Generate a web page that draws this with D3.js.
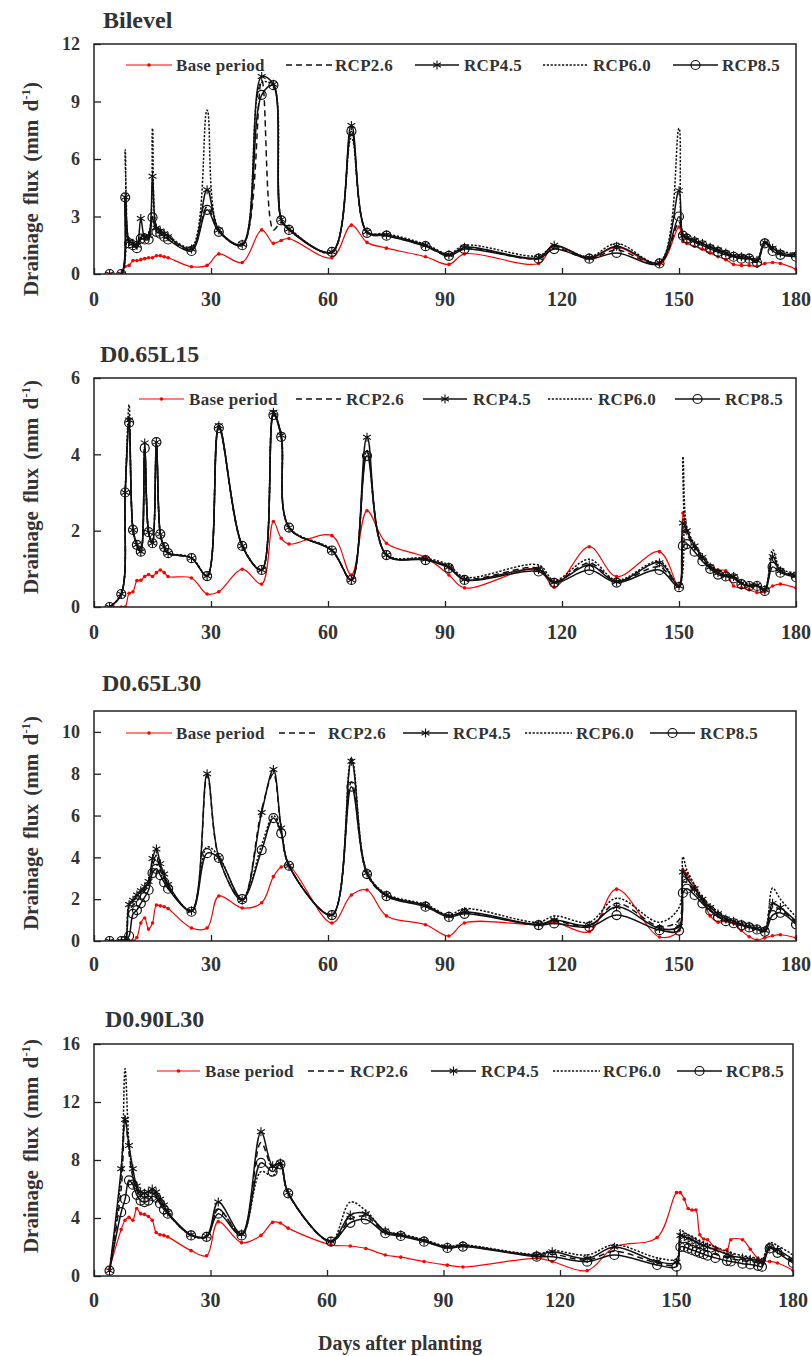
<!DOCTYPE html>
<html><head><meta charset="utf-8">
<script src="https://cdn.jsdelivr.net/npm/d3@7"></script>
<style>
body{margin:0;background:#fff}
svg text{font-family:"Liberation Serif","Times New Roman",serif;font-weight:bold;fill:#333}
</style></head><body>
<svg id="c" width="811" height="1356"></svg>
<script>
// ---- shared axis values ----
const xTickValues = [0, 30, 60, 90, 120, 150, 180];
const seriesNames = ["Base period", "RCP2.6", "RCP4.5", "RCP6.0", "RCP8.5"];

// ---- sampling days (days after planting) ----
const daysStd = [4,7,8,9,10,11,12,13,14,15,16,17,18,19,25,29,32,38,43,46,48,50,61,66,70,75,85,91,95,114,118,127,134,145,150,151,152,154,156,158,160,162,164,166,168,170,172,174,176,180];
const daysD90 = [4,7,8,9,10,11,12,13,14,15,16,17,18,19,25,29,32,38,43,46,48,50,61,66,70,75,79,85,91,95,114,118,127,134,145,150,151,152,153,154,155,156,157,158,160,163,164,167,169,171,172,174,176,180];

// ---- Bilevel drainage flux (mm/d) ----
const baseBilevel  = [0,0,0.4,0.45,0.7,0.7,0.75,0.8,0.85,0.85,0.95,0.95,0.9,0.85,0.38,0.45,1.05,0.6,2.3,1.6,1.75,1.85,0.85,2.55,1.65,1.35,0.9,0.5,1.05,0.55,1.45,0.8,1.4,0.5,2.45,1.7,1.6,1.45,1.3,1.1,0.9,0.75,0.5,0.45,0.45,0.4,0.55,0.6,0.55,0.25];
const rcp26Bilevel = [0,0,4.0,1.65,1.55,1.4,1.9,1.85,1.9,3.0,2.3,2.15,2.0,1.85,1.25,3.5,2.25,1.5,10.1,2.3,2.7,2.3,1.15,7.3,2.15,2.0,1.45,0.95,1.35,0.8,1.35,0.8,1.25,0.55,2.7,1.95,1.85,1.7,1.5,1.35,1.2,1.05,0.9,0.85,0.8,0.65,1.6,1.25,1.05,0.95];
const rcp45Bilevel = [0,0,4.0,1.7,1.6,1.5,2.9,1.9,2.0,5.1,2.4,2.25,2.1,1.95,1.3,4.4,2.3,1.55,10.3,9.9,2.85,2.35,1.15,7.75,2.2,2.05,1.5,1.0,1.4,0.85,1.5,0.85,1.45,0.6,4.35,2.0,1.9,1.75,1.6,1.4,1.25,1.1,0.95,0.9,0.85,0.7,1.65,1.35,1.1,1.0];
const rcp60Bilevel = [0,0,6.5,1.8,1.65,1.55,1.95,2.0,2.1,7.6,2.5,2.3,2.15,2.0,1.4,8.55,2.3,1.55,10.0,9.8,2.9,2.4,1.1,7.1,2.2,2.1,1.55,1.05,1.5,0.95,1.45,0.9,1.6,0.6,7.6,2.1,1.95,1.8,1.6,1.45,1.3,1.15,1.0,0.95,0.9,0.75,1.7,1.4,1.2,1.05];
const rcp85Bilevel = [0,0,4.0,1.6,1.5,1.35,1.85,1.8,1.8,2.95,2.2,2.1,1.95,1.8,1.2,3.35,2.2,1.5,9.35,9.85,2.8,2.3,1.15,7.45,2.15,2.0,1.45,0.95,1.3,0.8,1.3,0.8,1.1,0.55,3.0,2.0,1.85,1.65,1.5,1.3,1.15,1.0,0.9,0.8,0.8,0.6,1.6,1.2,1.0,0.9];

// ---- D0.65L15 ----
const baseL15  = [0,0,0,0.36,0.4,0.69,0.7,0.8,0.85,0.8,0.9,0.97,0.9,0.8,0.76,0.34,0.4,0.99,0.6,2.24,1.8,1.65,1.87,0.84,2.52,1.67,1.3,0.84,0.5,1.0,0.52,1.58,0.8,1.45,0.54,2.46,2.0,1.6,1.3,1.05,0.97,0.95,0.55,0.5,0.45,0.38,0.4,0.55,0.6,0.5];
const rcp26L15 = [0,0.34,3.0,5.0,2.02,1.63,1.45,4.2,1.96,1.67,4.3,1.9,1.56,1.4,1.28,0.8,4.7,1.6,0.97,5.05,4.48,2.08,1.48,0.7,4.05,1.36,1.25,1.05,0.74,1.02,0.66,1.15,0.68,1.05,0.54,2.0,1.9,1.55,1.25,1.02,0.88,0.8,0.78,0.62,0.56,0.56,0.44,1.2,0.95,0.85];
const rcp45L15 = [0,0.34,3.0,4.9,2.02,1.63,1.45,4.3,1.96,1.67,4.32,1.91,1.57,1.41,1.28,0.81,4.75,1.6,0.97,5.1,4.5,2.08,1.48,0.71,4.45,1.36,1.25,1.05,0.72,0.98,0.65,1.1,0.66,1.16,0.55,2.2,2.0,1.6,1.3,1.05,0.9,0.82,0.8,0.62,0.55,0.57,0.45,1.32,0.95,0.82];
const rcp60L15 = [0,0.34,3.0,5.3,2.05,1.65,1.45,4.2,1.98,1.68,4.35,1.92,1.58,1.42,1.3,0.82,4.72,1.62,0.98,5.05,4.5,2.1,1.5,0.72,4.1,1.38,1.28,1.1,0.78,1.1,0.7,1.25,0.7,1.2,0.56,3.94,2.1,1.65,1.35,1.1,0.95,0.85,0.82,0.65,0.6,0.6,0.48,1.5,1.0,0.9];
const rcp85L15 = [0,0.34,3.0,4.83,2.02,1.63,1.45,4.16,1.96,1.67,4.32,1.91,1.57,1.41,1.28,0.81,4.69,1.6,0.97,5.03,4.46,2.08,1.48,0.71,3.96,1.36,1.23,1.02,0.71,0.93,0.63,0.97,0.64,0.97,0.52,1.6,1.65,1.45,1.2,1.0,0.85,0.8,0.75,0.6,0.55,0.55,0.42,1.05,0.9,0.78];

// ---- D0.65L30 ----
const baseL30  = [0,0,0,0,0,0.17,0.86,1.1,0.57,0.86,1.72,1.68,1.64,1.55,0.62,0.62,2.15,1.58,1.83,3.08,3.54,3.6,0.86,2.2,2.44,1.2,0.78,0.24,0.86,0.78,0.9,0.45,2.48,0.19,0.5,3.4,3.2,2.6,2.0,1.2,0.9,0.95,0.85,0.5,0.2,0.05,0.15,0.25,0.3,0.15];
const rcp26L30 = [0,0,0,1.5,1.7,1.9,2.2,2.4,2.7,3.6,4.0,3.4,3.0,2.6,1.42,7.9,4.0,1.95,6.3,8.0,5.3,3.6,1.24,7.6,3.2,2.15,1.68,1.18,1.35,0.78,0.95,0.72,1.8,0.7,1.0,2.8,2.8,2.35,1.9,1.5,1.2,1.0,0.9,0.78,0.68,0.58,0.48,1.6,1.5,0.9];
const rcp45L30 = [0,0,0,1.75,1.95,2.2,2.4,2.6,2.85,3.95,4.4,3.7,3.2,2.7,1.45,8.0,4.0,1.95,6.15,8.2,5.4,3.6,1.24,8.6,3.25,2.2,1.7,1.2,1.4,0.8,1.0,0.75,1.64,0.6,0.7,3.3,3.0,2.5,2.0,1.6,1.3,1.05,0.95,0.8,0.7,0.6,0.5,1.8,1.6,0.95];
const rcp60L30 = [0,0,0,1.8,1.9,2.1,2.3,2.5,2.75,3.7,4.1,3.5,3.0,2.6,1.45,4.5,4.05,2.0,4.6,6.0,5.2,3.6,1.24,8.75,3.3,2.25,1.75,1.25,1.55,0.9,1.2,0.9,2.05,0.9,1.6,4.03,3.4,2.7,2.1,1.7,1.4,1.15,1.0,0.9,0.8,0.7,0.6,2.53,2.0,1.15];
const rcp85L30 = [0,0,0,0.24,1.3,1.48,1.8,2.1,2.44,3.25,3.45,3.15,2.8,2.5,1.4,4.2,3.97,2.0,4.35,5.88,5.15,3.6,1.24,7.38,3.2,2.15,1.64,1.15,1.3,0.76,0.84,0.67,1.24,0.52,0.5,2.3,2.5,2.2,1.8,1.45,1.15,0.95,0.85,0.75,0.65,0.55,0.45,1.24,1.35,0.8];

// ---- D0.90L30 ----
const baseD90  = [0.5,3.2,3.85,4.05,3.85,4.65,4.3,4.25,4.1,3.85,3.0,2.85,2.8,2.7,1.75,1.4,3.75,2.3,2.8,3.7,3.65,3.3,2.15,2.07,1.9,1.45,1.3,1.0,0.75,0.62,1.22,1.0,0.37,2.0,2.65,5.75,5.75,5.3,4.65,4.55,4.55,2.85,2.55,2.5,1.95,1.8,2.5,2.5,1.85,1.2,1.05,1.0,0.9,0.4];
const rcp26D90 = [0.37,6.0,11.0,8.5,6.8,5.9,5.5,5.4,5.5,5.7,5.5,5.1,4.7,4.3,2.8,2.7,4.6,2.85,9.2,7.5,7.8,5.7,2.35,3.9,4.1,3.0,2.8,2.4,1.95,2.05,1.4,1.5,1.1,1.7,0.9,0.8,2.4,2.35,2.25,2.1,2.0,1.9,1.8,1.7,1.5,1.25,1.2,1.05,1.0,0.9,0.8,1.95,1.7,1.0];
const rcp45D90 = [0.37,7.4,10.8,9.0,7.4,6.2,5.8,5.7,5.8,6.0,5.8,5.3,4.9,4.4,2.85,2.75,5.1,2.9,9.95,7.6,7.8,5.75,2.4,4.2,4.3,3.1,2.85,2.45,2.0,2.1,1.45,1.68,1.2,2.0,1.0,0.95,2.8,2.7,2.6,2.5,2.35,2.2,2.1,2.0,1.8,1.5,1.4,1.25,1.15,1.05,0.95,2.0,1.8,1.15];
const rcp60D90 = [0.37,7.0,14.3,9.2,7.0,6.0,5.6,5.5,5.6,5.8,5.6,5.1,4.7,4.3,2.8,2.7,4.6,2.85,7.2,6.9,7.7,5.7,2.4,5.1,4.5,3.1,2.9,2.5,2.05,2.15,1.5,1.75,1.45,2.15,1.26,1.2,3.2,3.0,2.85,2.7,2.55,2.4,2.3,2.2,2.0,1.7,1.6,1.4,1.3,1.2,1.1,2.3,2.1,1.45];
const rcp85D90 = [0.37,4.4,5.3,6.6,6.3,5.6,5.2,5.1,5.2,5.5,5.4,5.0,4.6,4.3,2.8,2.7,4.3,2.8,7.8,7.2,7.7,5.7,2.37,3.67,3.9,2.95,2.76,2.37,1.93,2.03,1.33,1.33,0.99,1.45,0.76,0.64,2.0,2.0,1.9,1.8,1.7,1.6,1.5,1.4,1.25,1.05,1.0,0.85,0.8,0.7,0.64,1.9,1.6,0.9];

// ---- y ticks per panel ----
const yTicksBilevel = [0, 3, 6, 9, 12];
const yTicksL15 = [0, 2, 4, 6];
const yTicksL30 = [0, 2, 4, 6, 8, 10];
const yTicksD90 = [0, 4, 8, 12, 16];

// ---- layout of each panel ----
const panels = [
  {title: "Bilevel", titleX: 103, titleY: 28, top: 44, bottom: 274, right: 796, yMax: 12, yTicks: yTicksBilevel,
   days: daysStd, data: [baseBilevel, rcp26Bilevel, rcp45Bilevel, rcp60Bilevel, rcp85Bilevel],
   legendY: 65, legend: [[126,172,176],[286,333,335],[415,459,464],[543,588,593],[673,718,722]],
   yLabelY: 189, xLabelY: 299},
  {title: "D0.65L15", titleX: 100, titleY: 362, top: 378, bottom: 607, right: 796, yMax: 6, yTicks: yTicksL15,
   days: daysStd, data: [baseL15, rcp26L15, rcp45L15, rcp60L15, rcp85L15],
   legendY: 399, legend: [[139,184,189],[296,341,346],[423,467,473],[548,593,598],[675,720,725]],
   yLabelY: 487, xLabelY: 632},
  {title: "D0.65L30", titleX: 102, titleY: 691, top: 711, bottom: 941, right: 796, yMax: 11, yTicks: yTicksL30,
   days: daysStd, data: [baseL30, rcp26L30, rcp45L30, rcp60L30, rcp85L30],
   legendY: 733, legend: [[126,172,176],[279,318,328],[403,448,453],[525,572,576],[650,695,700]],
   yLabelY: 823, xLabelY: 964},
  {title: "D0.90L30", titleX: 105, titleY: 1027, top: 1044, bottom: 1276, right: 793, yMax: 16, yTicks: yTicksD90,
   days: daysD90, data: [baseD90, rcp26D90, rcp45D90, rcp60D90, rcp85D90],
   legendY: 1071, legend: [[157,200,205],[308,348,350],[431,476,481],[553,600,603],[677,722,726]],
   yLabelY: 1146, xLabelY: 1300}
];

const LEFT = 94;
const styles = [
  {color: "#ff0000", width: 1.2, dash: null, mark: "dot"},
  {color: "#111", width: 1.5, dash: "6,4", mark: null},
  {color: "#111", width: 1.5, dash: null, mark: "star"},
  {color: "#111", width: 1.5, dash: "2.2,1.6", mark: null},
  {color: "#111", width: 1.5, dash: null, mark: "circle"}
];
const starPath = "M0,-4.5V4.5M-3.9,-2.25L3.9,2.25M-3.9,2.25L3.9,-2.25";

const svg = d3.select("#c");

function drawMark(g, type, cx, cy, color) {
  if (type === "dot") {
    g.append("circle").attr("cx", cx).attr("cy", cy).attr("r", 1.8).attr("fill", color);
  } else if (type === "star") {
    g.append("path").attr("d", starPath).attr("transform", `translate(${cx},${cy})`)
      .attr("fill", "none").attr("stroke", color).attr("stroke-width", 1.1);
  } else if (type === "circle") {
    g.append("circle").attr("cx", cx).attr("cy", cy).attr("r", 4.5)
      .attr("fill", "none").attr("stroke", color).attr("stroke-width", 1.2);
  }
}

panels.forEach((p, pi) => {
  const g = svg.append("g");
  const x = d3.scaleLinear().domain([0, 180]).range([LEFT, p.right]);
  const y = d3.scaleLinear().domain([0, p.yMax]).range([p.bottom, p.top]);

  // title
  g.append("text").attr("x", p.titleX).attr("y", p.titleY).attr("font-size", 24).text(p.title);

  // clip
  const clipId = "clip" + pi;
  g.append("clipPath").attr("id", clipId).append("rect")
    .attr("x", LEFT).attr("y", p.top).attr("width", p.right - LEFT).attr("height", p.bottom - p.top);

  // x axis ticks (inside)
  const xa = g.append("g").attr("transform", `translate(0,${p.bottom})`)
    .call(d3.axisBottom(x).tickValues(xTickValues).tickSizeInner(-6).tickSizeOuter(0).tickFormat(""));
  xa.select(".domain").remove();
  xa.selectAll("line").attr("stroke", "#222").attr("stroke-width", 1.3);

  // x tick labels
  xTickValues.forEach(v => {
    g.append("text").attr("x", x(v)).attr("y", p.xLabelY).attr("dy", "0.35em")
      .attr("text-anchor", "middle").attr("font-size", 20).text(v);
  });

  // y axis ticks + labels
  const ya = g.append("g").attr("transform", `translate(${LEFT},0)`)
    .call(d3.axisLeft(y).tickValues(p.yTicks).tickFormat(d3.format("d"))
      .tickSizeInner(-7).tickSizeOuter(0).tickPadding(14));
  ya.select(".domain").remove();
  ya.selectAll("line").attr("stroke", "#222").attr("stroke-width", 1.3);
  ya.selectAll("text").attr("font-size", 18).attr("font-family", null).attr("fill", null);

  // y label
  const yl = g.append("text").attr("transform", `translate(37.5,${p.yLabelY}) rotate(-90)`)
    .attr("text-anchor", "middle").attr("font-size", 21).attr("word-spacing", 3);
  yl.append("tspan").text("Drainage flux (mm d");
  yl.append("tspan").attr("font-size", 13).attr("dy", -8).text("-1");
  yl.append("tspan").attr("dy", 8).text(")");

  // series
  const line = d3.line().x(d => x(d[0])).y(d => y(d[1])).curve(d3.curveCatmullRom.alpha(0.5));
  const plot = g.append("g").attr("clip-path", `url(#${clipId})`);
  p.data.forEach((vals, si) => {
    const st = styles[si];
    const pts = p.days.map((d, i) => [d, vals[i]]);
    plot.append("path").attr("d", line(pts)).attr("fill", "none")
      .attr("stroke", st.color).attr("stroke-width", st.width)
      .attr("stroke-dasharray", st.dash);
    if (st.mark) pts.forEach(pt => drawMark(plot, st.mark, x(pt[0]), y(pt[1]), st.color));
  });

  // frame
  g.append("rect").attr("x", LEFT).attr("y", p.top).attr("width", p.right - LEFT).attr("height", p.bottom - p.top)
    .attr("fill", "none").attr("stroke", "#222").attr("stroke-width", 1.5);

  // legend
  p.legend.forEach((pos, si) => {
    const st = styles[si];
    const ly = p.legendY;
    g.append("line").attr("x1", pos[0]).attr("x2", pos[1]).attr("y1", ly).attr("y2", ly)
      .attr("stroke", st.color).attr("stroke-width", st.width).attr("stroke-dasharray", st.dash);
    if (st.mark) drawMark(g, st.mark, (pos[0] + pos[1]) / 2, ly, st.color);
    g.append("text").attr("x", pos[2]).attr("y", ly).attr("dy", "0.35em")
      .attr("font-size", 17).attr("letter-spacing", 0.3).text(seriesNames[si]);
  });
});

// x axis title
svg.append("text").attr("x", 400).attr("y", 1343).attr("dy", "0.35em").attr("text-anchor", "middle")
  .attr("font-size", 20).text("Days after planting");
</script>
</body></html>
